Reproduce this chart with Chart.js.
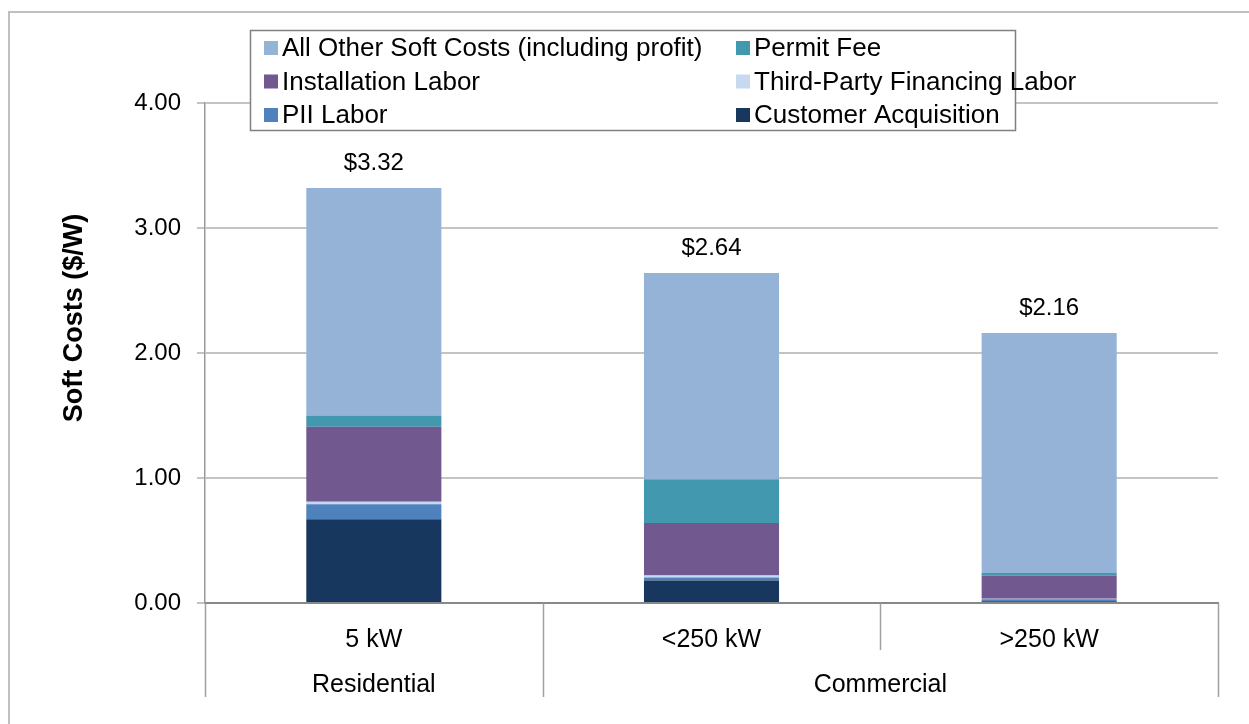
<!DOCTYPE html>
<html>
<head>
<meta charset="utf-8">
<script src="https://cdn.jsdelivr.net/npm/chart.js@4/dist/chart.umd.min.js"></script>
<style>
html,body{margin:0;padding:0;background:#fff;}
#wrap{width:1249px;height:724px;position:relative;}
</style>
</head>
<body>
<div id="wrap"><canvas id="c" width="1249" height="724"></canvas></div>
<script>
const categories = ['5 kW', '<250 kW', '>250 kW'];
const groups = ['Residential', 'Commercial', 'Commercial'];
const customerAcquisition = [0.67, 0.18, 0.015];
const piiLabor = [0.12, 0.025, 0.015];
const thirdPartyFinancing = [0.02, 0.015, 0.005];
const installationLabor = [0.60, 0.42, 0.185];
const permitFee = [0.09, 0.35, 0.02];
const allOtherSoftCosts = [1.82, 1.65, 1.92];
const yTicks = [0, 1, 2, 3, 4];

const FONT = "'Liberation Sans', Arial, sans-serif";

const datasets = [
  {label: 'Customer Acquisition', data: customerAcquisition, backgroundColor: '#17375E'},
  {label: 'PII Labor', data: piiLabor, backgroundColor: '#4F81BD'},
  {label: 'Third-Party Financing Labor', data: thirdPartyFinancing, backgroundColor: '#C6D9F1'},
  {label: 'Installation Labor', data: installationLabor, backgroundColor: '#71588F'},
  {label: 'Permit Fee', data: permitFee, backgroundColor: '#4198AF'},
  {label: 'All Other Soft Costs (including profit)', data: allOtherSoftCosts, backgroundColor: '#95B3D7'}
];

const decor = {
  id: 'decor',
  afterDraw(chart) {
    const ctx = chart.ctx;
    const ca = chart.chartArea;
    const xs = chart.scales.x, ys = chart.scales.y;
    ctx.save();
    // outer frame
    ctx.strokeStyle = '#c0c0c0';
    ctx.lineWidth = 2;
    ctx.strokeRect(9, 12, 1260, 740);

    // totals
    ctx.fillStyle = '#000';
    ctx.font = '24px ' + FONT;
    ctx.textAlign = 'center';
    ctx.textBaseline = 'middle';
    categories.forEach((c, i) => {
      let sum = 0;
      chart.data.datasets.forEach(d => sum += d.data[i]);
      const x = xs.getPixelForValue(i);
      const y = ys.getPixelForValue(sum);
      ctx.fillText('$' + sum.toFixed(2), x, y - 25);
    });

    // x separators
    ctx.strokeStyle = '#a0a0a0';
    ctx.lineWidth = 1.5;
    const n = categories.length;
    const step = (ca.right - ca.left) / n;
    for (let i = 0; i <= n; i++) {
      const x = Math.round(ca.left + step * i) + 0.5;
      let full = (i === 0 || i === n || groups[i] !== groups[i - 1]);
      ctx.beginPath();
      ctx.moveTo(x, ca.bottom);
      ctx.lineTo(x, full ? ca.bottom + 94 : ca.bottom + 47);
      ctx.stroke();
    }
    // group labels
    ctx.fillStyle = '#000';
    ctx.font = '25px ' + FONT;
    let start = 0;
    for (let i = 1; i <= n; i++) {
      if (i === n || groups[i] !== groups[start]) {
        const x = ca.left + step * (start + i) / 2;
        ctx.fillText(groups[start], x, ca.bottom + 82);
        start = i;
      }
    }

    // y title
    ctx.save();
    ctx.translate(75, 318);
    ctx.rotate(-Math.PI / 2);
    ctx.font = 'bold 27px ' + FONT;
    ctx.fillText('Soft Costs ($/W)', 0, 0);
    ctx.restore();

    // legend
    const lx = 250, ly = 30, lw = 765, lh = 100;
    ctx.fillStyle = '#fff';
    ctx.fillRect(lx, ly, lw, lh);
    ctx.strokeStyle = '#808080';
    ctx.lineWidth = 1.5;
    ctx.strokeRect(lx + 0.5, ly + 0.5, lw, lh);
    const items = chart.data.datasets.slice().reverse();
    ctx.font = '26px ' + FONT;
    ctx.textAlign = 'left';
    items.forEach((d, k) => {
      const col = k % 2, row = Math.floor(k / 2);
      const mx = col === 0 ? 264 : 736;
      const cy = 48 + row * 33.5;
      ctx.fillStyle = d.backgroundColor;
      ctx.fillRect(mx, cy - 7, 14, 14);
      ctx.fillStyle = '#000';
      ctx.fillText(d.label, mx + 18, cy + 1);
    });
    ctx.restore();
  }
};

new Chart(document.getElementById('c'), {
  type: 'bar',
  data: {labels: categories, datasets: datasets},
  options: {
    responsive: false,
    animation: false,
    layout: {padding: {left: 0, right: 31, top: 103, bottom: 0}},
    plugins: {legend: {display: false}, tooltip: {enabled: false}},
    datasets: {bar: {categoryPercentage: 1, barPercentage: 0.4, borderWidth: 0}},
    scales: {
      x: {
        stacked: true,
        grid: {display: false, drawTicks: false},
        border: {display: true, color: '#888888', width: 2},
        ticks: {color: '#000', font: {family: FONT, size: 25}, padding: 22},
        afterFit(s) { s.height = 121; }
      },
      y: {
        stacked: true,
        min: 0, max: 4,
        afterBuildTicks(s) { s.ticks = yTicks.map(v => ({value: v})); },
        ticks: {color: '#000', font: {family: FONT, size: 24}, padding: 16,
                callback: v => Number(v).toFixed(2)},
        grid: {color: '#c4c4c4', lineWidth: 2, tickLength: 8},
        border: {display: true, color: '#999999', width: 1.5},
        afterFit(s) { s.width = 205; }
      }
    }
  },
  plugins: [decor]
});
</script>
</body>
</html>
